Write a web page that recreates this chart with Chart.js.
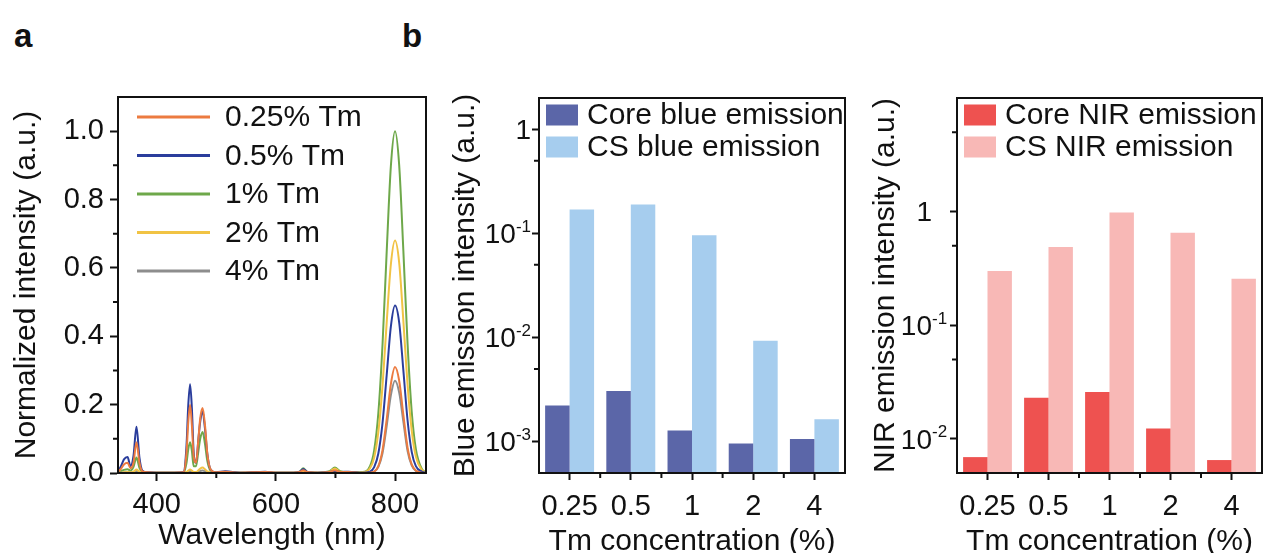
<!DOCTYPE html>
<html>
<head>
<meta charset="utf-8">
<script src="https://cdn.jsdelivr.net/npm/chart.js@4"></script>
<style>
  html, body { margin: 0; padding: 0; background: #fff; overflow: hidden; }
  body { width: 1270px; height: 553px; position: relative; font-family: 'Liberation Sans', Arial, sans-serif; }
  .panel { position: absolute; top: 60px; }
  .tag { position: absolute; font: bold 33px 'Liberation Sans', Arial, sans-serif; color: #111; }
</style>
</head>
<body>
<div class="tag" style="left:14px; top:17px;">a</div>
<div class="tag" style="left:402px; top:17px;">b</div>
<div class="panel" style="left:0; width:440px; height:510px;"><canvas id="spec" width="440" height="510"></canvas></div>
<div class="panel" style="left:440px; width:420px; height:510px;"><canvas id="blue" width="420" height="510"></canvas></div>
<div class="panel" style="left:860px; width:410px; height:510px;"><canvas id="nir" width="410" height="510"></canvas></div>
<script>
// ─── Data: panel a spectra ────────────────────────────────────────────────────
const wavelength = [335, 340, 345, 351, 356, 361, 366, 371, 376, 385, 400, 430,
  445, 450, 453, 456, 459, 462, 466, 470, 473, 477, 481, 485, 490, 500,
  515, 540, 582, 600, 630, 640, 646, 652, 670, 690, 699, 708, 722,
  745, 758, 765, 772, 779, 786, 793, 800, 807, 814, 821, 828, 835, 845, 852];

const tm025 = [0.004, 0.012, 0.025, 0.03, 0.014, 0.03, 0.09, 0.03, 0.005, 0.002, 0.001, 0.001,
  0.002, 0.06, 0.15, 0.2, 0.14, 0.05, 0.03, 0.1, 0.16, 0.19, 0.14, 0.055, 0.012, 0.002,
  0.004, 0.001, 0.003, 0.001, 0.001, 0.003, 0.008, 0.003, 0.001, 0.003, 0.008, 0.003, 0.003,
  0, 0.001, 0.004, 0.02, 0.067, 0.157, 0.26, 0.31, 0.27, 0.17, 0.075, 0.025, 0.007, 0.001, 0];
const tm05 = [0.006, 0.02, 0.04, 0.047, 0.02, 0.05, 0.135, 0.045, 0.007, 0.002, 0.001, 0.001,
  0.003, 0.08, 0.2, 0.26, 0.19, 0.06, 0.03, 0.1, 0.15, 0.18, 0.13, 0.055, 0.012, 0.002,
  0.005, 0.001, 0.004, 0.001, 0.001, 0.004, 0.012, 0.004, 0.001, 0.003, 0.006, 0.003, 0.004,
  0.001, 0.004, 0.017, 0.057, 0.146, 0.286, 0.428, 0.49, 0.44, 0.3, 0.155, 0.062, 0.02, 0.004, 0.001];
const tm1 = [0.002, 0.005, 0.009, 0.011, 0.007, 0.018, 0.045, 0.015, 0.003, 0.001, 0.001, 0.001,
  0.001, 0.03, 0.07, 0.09, 0.065, 0.02, 0.02, 0.065, 0.1, 0.12, 0.085, 0.035, 0.008, 0.001,
  0.002, 0.001, 0.002, 0.001, 0.001, 0.004, 0.014, 0.004, 0.001, 0.005, 0.016, 0.005, 0.002,
  0.003, 0.02, 0.066, 0.175, 0.375, 0.647, 0.897, 1.0, 0.9, 0.65, 0.38, 0.18, 0.07, 0.012, 0.003];
const tm2 = [0.001, 0.001, 0.002, 0.003, 0.002, 0.004, 0.01, 0.004, 0.001, 0.001, 0.001, 0.001,
  0.001, 0.003, 0.007, 0.01, 0.007, 0.003, 0.003, 0.008, 0.013, 0.016, 0.011, 0.005, 0.001, 0.001,
  0.001, 0.001, 0.001, 0.001, 0.001, 0.002, 0.006, 0.002, 0.001, 0.004, 0.013, 0.004, 0.001,
  0.002, 0.014, 0.045, 0.12, 0.255, 0.44, 0.61, 0.68, 0.615, 0.445, 0.26, 0.125, 0.048, 0.009, 0.002];
const tm4 = [0.001, 0.001, 0.002, 0.003, 0.002, 0.003, 0.006, 0.003, 0.001, 0.001, 0.001, 0.001,
  0.001, 0.002, 0.004, 0.006, 0.004, 0.002, 0.002, 0.004, 0.006, 0.007, 0.005, 0.002, 0.001, 0.001,
  0.001, 0.001, 0.001, 0.001, 0.001, 0.002, 0.005, 0.002, 0.001, 0.002, 0.006, 0.002, 0.001,
  0, 0.001, 0.004, 0.018, 0.058, 0.137, 0.227, 0.27, 0.235, 0.15, 0.065, 0.022, 0.006, 0.001, 0];

const specLabels = ['0.25% Tm', '0.5% Tm', '1% Tm', '2% Tm', '4% Tm'];
const specTicksX = [400, 600, 800];
const specMinorX = [500, 700];
const specTicksY = [0, 0.2, 0.4, 0.6, 0.8, 1.0];
const specMinorY = [0.1, 0.3, 0.5, 0.7, 0.9];

// ─── Data: panel b bars ───────────────────────────────────────────────────────
const tmConc = ['0.25', '0.5', '1', '2', '4'];
const coreBlue = [0.00223, 0.00306, 0.00128, 0.00096, 0.00106];
const csBlue = [0.17, 0.19, 0.096, 0.0093, 0.00164];
const coreNir = [0.0069, 0.023, 0.0258, 0.0123, 0.0065];
const csNir = [0.30, 0.487, 0.98, 0.65, 0.257];
const blueTicksY = [0.001, 0.01, 0.1, 1];
const blueMinorY = [0.005, 0.05, 0.5];
const nirTicksY = [0.01, 0.1, 1];
const nirMinorY = [0.05, 0.5, 5];
const catMinorX = [0.5, 1.5, 2.5, 3.5];

// ─── Colors / fonts ───────────────────────────────────────────────────────────
const INK = '#111';
const FONT = "'Liberation Sans', Arial, sans-serif";
const SPEC_COLORS = ['#ec7b40', '#2a3d9c', '#6ea84a', '#f1c344', '#8d8d8d'];
const BAR_COLORS = { coreBlue: '#5b66a8', csBlue: '#a6cdee', coreNir: '#ee5250', csNir: '#f8b8b6' };

Chart.defaults.font.family = FONT;
Chart.defaults.color = INK;
Chart.defaults.animation = false;

// frame box + short minor ticks
const framePlugin = {
  id: 'frame',
  afterDatasetsDraw(chart, args, opts) {
    const { ctx, chartArea: a } = chart;
    ctx.save();
    ctx.strokeStyle = INK;
    ctx.lineWidth = 2;
    ctx.strokeRect(a.left, a.top, a.right - a.left, a.bottom - a.top);
    const len = opts.minorLen || 5;
    ctx.beginPath();
    (opts.minorX || []).forEach(v => {
      const x = chart.scales.x.getPixelForValue(v);
      ctx.moveTo(x, a.bottom);
      ctx.lineTo(x, a.bottom + len);
    });
    (opts.minorY || []).forEach(v => {
      const y = chart.scales.y.getPixelForValue(v);
      ctx.moveTo(a.left, y);
      ctx.lineTo(a.left - len, y);
    });
    ctx.stroke();
    ctx.restore();
  }
};

// power-of-ten tick labels with a raised exponent
const powerLabels = {
  id: 'powerLabels',
  afterDraw(chart, args, o) {
    if (!o.gap) return;
    const { ctx, chartArea: a } = chart;
    const ys = chart.scales.y;
    ctx.save();
    ctx.fillStyle = INK;
    ctx.textBaseline = 'middle';
    ys.ticks.forEach(t => {
      const e = Math.round(Math.log10(t.value));
      const base = e === 0 ? '1' : '10';
      const exp = e === 0 ? '' : String(e);
      const y = ys.getPixelForValue(t.value);
      ctx.font = `17px ${FONT}`;
      const wExp = ctx.measureText(exp).width;
      const right = o.mode === 'base' ? a.left - o.gap : a.left - o.gap - wExp;
      ctx.textAlign = 'right';
      ctx.font = `28px ${FONT}`;
      ctx.fillText(base, right, y + 2);
      if (exp) {
        ctx.textAlign = 'left';
        ctx.font = `17px ${FONT}`;
        ctx.fillText(exp, right, y - 6);
      }
    });
    ctx.restore();
  }
};

// legend drawn inside the plot box
const innerLegend = {
  id: 'innerLegend',
  afterDraw(chart, args, o) {
    const { ctx, chartArea: a } = chart;
    ctx.save();
    ctx.font = `30px ${FONT}`;
    ctx.textBaseline = 'middle';
    chart.data.datasets.forEach((ds, i) => {
      const y = a.top + o.y + i * o.rowH;
      if (o.kind === 'line') {
        ctx.strokeStyle = ds.borderColor;
        ctx.lineWidth = 3;
        ctx.beginPath();
        ctx.moveTo(a.left + o.x, y);
        ctx.lineTo(a.left + o.x + o.w, y);
        ctx.stroke();
      } else {
        ctx.fillStyle = ds.backgroundColor;
        ctx.fillRect(a.left + o.x, y - o.h / 2, o.w, o.h);
      }
      ctx.fillStyle = INK;
      ctx.fillText(ds.label, a.left + o.textX, y + 1);
    });
    ctx.restore();
  }
};

function axisGrid(len) {
  return { drawOnChartArea: false, drawTicks: true, tickLength: len, tickWidth: 2, tickColor: INK, offset: false };
}
const axisBorder = { display: true, color: INK, width: 2 };

// ─── Panel a: spectra ─────────────────────────────────────────────────────────
const specSeries = [tm025, tm05, tm1, tm2, tm4];
new Chart(document.getElementById('spec'), {
  type: 'line',
  data: {
    datasets: specSeries.map((s, i) => ({
      label: specLabels[i],
      data: wavelength.map((w, j) => ({ x: w, y: s[j] })),
      borderColor: SPEC_COLORS[i],
      borderWidth: 2,
      pointRadius: 0,
      cubicInterpolationMode: 'monotone',
      order: i === 2 ? 5 : i,
    }))
  },
  options: {
    responsive: false,
    layout: { padding: { left: 0, top: 37, right: 14, bottom: 0 } },
    scales: {
      x: {
        type: 'linear', min: 335, max: 852,
        afterBuildTicks: s => { s.ticks = specTicksX.map(v => ({ value: v })); },
        afterFit: s => { s.height = 97; },
        ticks: { font: { size: 29 }, color: INK, padding: 7, maxRotation: 0, autoSkip: false },
        grid: axisGrid(8), border: axisBorder,
        title: { display: true, text: 'Wavelength (nm)', font: { size: 30 }, color: INK, padding: { top: 0, bottom: 16 } },
      },
      y: {
        min: 0, max: 1.1,
        afterBuildTicks: s => { s.ticks = specTicksY.map(v => ({ value: v })); },
        afterFit: s => { s.width = 118; },
        ticks: { font: { size: 29 }, color: INK, padding: 6, callback: v => v.toFixed(1) },
        grid: axisGrid(8), border: axisBorder,
        title: { display: true, text: 'Normalized intensity (a.u.)', font: { size: 30 }, color: INK, padding: { top: 9, bottom: 0 } },
      }
    },
    plugins: {
      legend: { display: false }, tooltip: { enabled: false },
      frame: { minorX: specMinorX, minorY: specMinorY, minorLen: 5 },
      innerLegend: { kind: 'line', x: 19, y: 20, rowH: 38.5, w: 73, textX: 107 },
    }
  },
  plugins: [framePlugin, innerLegend]
});

// ─── Panel b: log bar charts ──────────────────────────────────────────────────
function makeBars(id, core, cs, coreLabel, csLabel, colors, yMin, yMax, ticksY, minorY, yTitle, yWidth, padRight, labelMode, labelGap) {
  return new Chart(document.getElementById(id), {
    type: 'bar',
    data: {
      labels: tmConc,
      datasets: [
        { label: coreLabel, data: core, backgroundColor: colors[0], categoryPercentage: 0.8, barPercentage: 1.0 },
        { label: csLabel, data: cs, backgroundColor: colors[1], categoryPercentage: 0.8, barPercentage: 1.0 },
      ]
    },
    options: {
      responsive: false,
      layout: { padding: { left: 0, top: 38, right: padRight, bottom: 0 } },
      scales: {
        x: {
          afterFit: s => { s.height = 97; },
          ticks: { font: { size: 29 }, color: INK, padding: 10, maxRotation: 0, autoSkip: false },
          grid: axisGrid(7), border: axisBorder,
          title: { display: true, text: 'Tm concentration (%)', font: { size: 30 }, color: INK, padding: { top: 0, bottom: 10 } },
        },
        y: {
          type: 'logarithmic', min: yMin, max: yMax,
          afterBuildTicks: s => { s.ticks = ticksY.map(v => ({ value: v })); },
          afterFit: s => { s.width = yWidth; },
          ticks: { font: { size: 28 }, color: INK, padding: 0, callback: () => '' },
          grid: axisGrid(7), border: axisBorder,
          title: { display: true, text: yTitle, font: { size: 30 }, color: INK, padding: { top: 8, bottom: 0 } },
        }
      },
      plugins: {
        legend: { display: false }, tooltip: { enabled: false },
        frame: { minorX: catMinorX, minorY: minorY, minorLen: 5 },
        powerLabels: { mode: labelMode, gap: labelGap },
        innerLegend: { kind: 'box', x: 7, y: 17, rowH: 32, w: 32, h: 21, textX: 48 },
      }
    },
    plugins: [framePlugin, powerLabels, innerLegend]
  });
}

makeBars('blue', coreBlue, csBlue, 'Core blue emission', 'CS blue emission',
  [BAR_COLORS.coreBlue, BAR_COLORS.csBlue], 0.0005, 2, blueTicksY, blueMinorY,
  'Blue emission intensity (a.u.)', 99, 15, 'full', 8);
makeBars('nir', coreNir, csNir, 'Core NIR emission', 'CS NIR emission',
  [BAR_COLORS.coreNir, BAR_COLORS.csNir], 0.005, 10, nirTicksY, nirMinorY,
  'NIR emission intensity (a.u.)', 97, 8, 'base', 25);
</script>
</body>
</html>
